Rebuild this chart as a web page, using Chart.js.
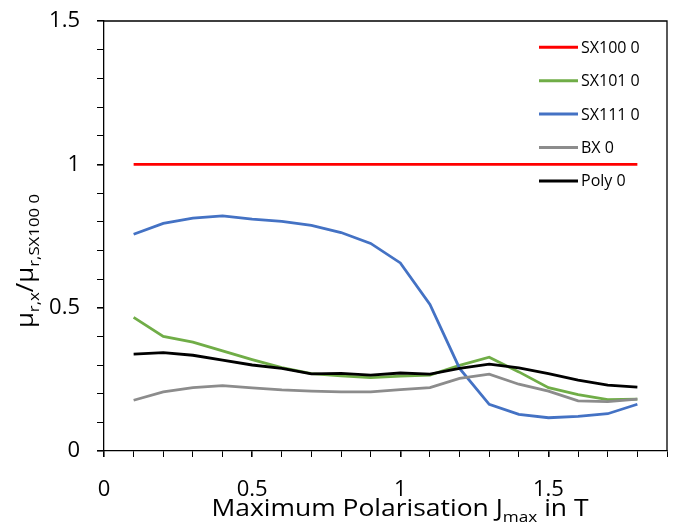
<!DOCTYPE html>
<html>
<head>
    <title>Relative permeability vs. polarisation</title>
    <script src="https://cdn.jsdelivr.net/npm/chart.js"></script>
    <style>
        body { margin: 0; background: #fff; }
    </style>
</head>
<body>
    <canvas id="myChart" width="676" height="532"></canvas>

    <script>
        // Jmax in T
        var polarisation = [0.1, 0.2, 0.3, 0.4, 0.5, 0.6, 0.7, 0.8, 0.9, 1.0, 1.1, 1.2, 1.3, 1.4, 1.5, 1.6, 1.7, 1.8];

        // mu_r,x / mu_r,SX100 0
        var sx100 = [1, 1, 1, 1, 1, 1, 1, 1, 1, 1, 1, 1, 1, 1, 1, 1, 1, 1];
        var sx101 = [0.466, 0.400, 0.380, 0.349, 0.319, 0.291, 0.270, 0.262, 0.256, 0.261, 0.265, 0.299, 0.327, 0.276, 0.221, 0.197, 0.179, 0.181];
        var sx111 = [0.756, 0.794, 0.812, 0.820, 0.809, 0.801, 0.787, 0.762, 0.724, 0.656, 0.511, 0.288, 0.163, 0.128, 0.116, 0.121, 0.130, 0.163];
        var bx = [0.177, 0.206, 0.221, 0.228, 0.220, 0.213, 0.209, 0.206, 0.206, 0.214, 0.221, 0.253, 0.268, 0.233, 0.209, 0.175, 0.172, 0.181];
        var poly = [0.338, 0.343, 0.334, 0.317, 0.300, 0.288, 0.269, 0.271, 0.265, 0.272, 0.268, 0.288, 0.303, 0.290, 0.270, 0.247, 0.230, 0.223];

        var seriesNames = ["SX100 0", "SX101 0", "SX111 0", "BX 0", "Poly 0"];
        var seriesColors = ["#FF0000", "#70AD47", "#4472C4", "#8C8C8C", "#000000"];
        var seriesValues = [sx100, sx101, sx111, bx, poly];

        var xTickLabels = ["0", "0.5", "1", "1.5"];
        var yTickLabels = ["0", "0.5", "1", "1.5"];

        var fontFamily = "'Open Sans', 'DejaVu Sans', sans-serif";

        var datasets = seriesValues.map(function (values, i) {
            return {
                label: seriesNames[i],
                data: values.map(function (v, j) { return { x: polarisation[j], y: v }; }),
                borderColor: seriesColors[i],
                backgroundColor: seriesColors[i],
                borderWidth: 2.8,
                pointRadius: 0,
                tension: 0,
                // Excel order: the last series ends up on top
                order: seriesValues.length - i
            };
        });

        // only label every 0.5, keep the 0.1 tick marks
        function majorLabel(labels) {
            return function (value) {
                var k = Math.round(value * 2);
                if (Math.abs(value * 2 - k) > 1e-6) return "";
                return labels[k] !== undefined ? labels[k] : "";
            };
        }
        function isMajor(ctx) {
            var v = ctx.tick ? ctx.tick.value : 0;
            return Math.abs(v * 2 - Math.round(v * 2)) < 1e-6;
        }

        // Frame, legend and axis titles with subscripts
        var extras = {
            id: "extras",
            afterDraw: function (chart) {
                var c = chart.ctx;
                var a = chart.chartArea;
                c.save();

                c.strokeStyle = "#000";
                c.lineWidth = 1.3;
                c.beginPath();
                c.moveTo(a.left, a.top);
                c.lineTo(a.right, a.top);
                c.lineTo(a.right, a.bottom);
                c.stroke();

                // legend inside the plot
                c.font = "16px " + fontFamily;
                c.textBaseline = "middle";
                c.textAlign = "left";
                for (var i = 0; i < seriesNames.length; i++) {
                    var y = 47.3 + i * 33.4;
                    c.strokeStyle = seriesColors[i];
                    c.lineWidth = 3;
                    c.beginPath();
                    c.moveTo(539, y);
                    c.lineTo(578, y);
                    c.stroke();
                    c.fillStyle = "#000";
                    c.fillText(seriesNames[i], 581, y + 1);
                }

                var main = "23px " + fontFamily;
                var sub = "15px " + fontFamily;
                // text with subscripts, stretched a little along its length
                function drawRich(parts, cx, cy, stretch) {
                    var w = 0;
                    parts.forEach(function (p) { c.font = p[1] ? sub : main; w += c.measureText(p[0]).width; });
                    c.save();
                    c.translate(cx, cy);
                    c.scale(stretch, 1);
                    var x = -w / 2;
                    c.textAlign = "left";
                    c.textBaseline = "alphabetic";
                    c.fillStyle = "#000";
                    parts.forEach(function (p) {
                        c.font = p[1] ? sub : main;
                        c.fillText(p[0], x, p[1] ? 6 : 0);
                        x += c.measureText(p[0]).width;
                    });
                    c.restore();
                }

                drawRich([["Maximum Polarisation J", false], ["max", true], [" in T", false]], 400, 516, 1.15);

                c.translate(33, 261);
                c.rotate(-Math.PI / 2);
                drawRich([["\u03BC", false], ["r,x", true], ["/", false], ["\u03BC", false], ["r,SX100 0", true]], 0, 0, 1.12);

                c.restore();
            }
        };

        var ctx = document.getElementById("myChart").getContext("2d");
        new Chart(ctx, {
            type: "line",
            data: { datasets: datasets },
            plugins: [extras],
            options: {
                responsive: false,
                animation: false,
                layout: { padding: { top: 21, right: 9, left: 0, bottom: 0 } },
                plugins: {
                    legend: { display: false },
                    tooltip: { enabled: false }
                },
                scales: {
                    x: {
                        type: "linear",
                        min: 0,
                        max: 1.9,
                        afterFit: function (scale) {
                            scale.height = 81;
                            scale.paddingLeft = 0;
                            scale.paddingRight = 0;
                        },
                        ticks: {
                            stepSize: 0.1,
                            autoSkip: false,
                            maxRotation: 0,
                            padding: 20,
                            color: "#000",
                            font: { family: fontFamily, size: 22 },
                            callback: majorLabel(xTickLabels)
                        },
                        grid: {
                            drawOnChartArea: false,
                            drawTicks: true,
                            tickLength: 6,
                            color: "#000",
                            lineWidth: function (ctx) { return isMajor(ctx) ? 1.6 : 1; }
                        },
                        border: { display: true, color: "#000", width: 1.3 }
                    },
                    y: {
                        min: 0,
                        max: 1.5,
                        afterFit: function (scale) {
                            scale.width = 104;
                            scale.paddingTop = 0;
                            scale.paddingBottom = 0;
                        },
                        ticks: {
                            stepSize: 0.1,
                            autoSkip: false,
                            padding: 17,
                            color: "#000",
                            font: { family: fontFamily, size: 22 },
                            callback: majorLabel(yTickLabels)
                        },
                        grid: {
                            drawOnChartArea: false,
                            drawTicks: true,
                            tickLength: 7,
                            color: "#000",
                            lineWidth: function (ctx) { return isMajor(ctx) ? 1.6 : 1; }
                        },
                        border: { display: true, color: "#000", width: 1.3 }
                    }
                }
            }
        });
    </script>
</body>
</html>
